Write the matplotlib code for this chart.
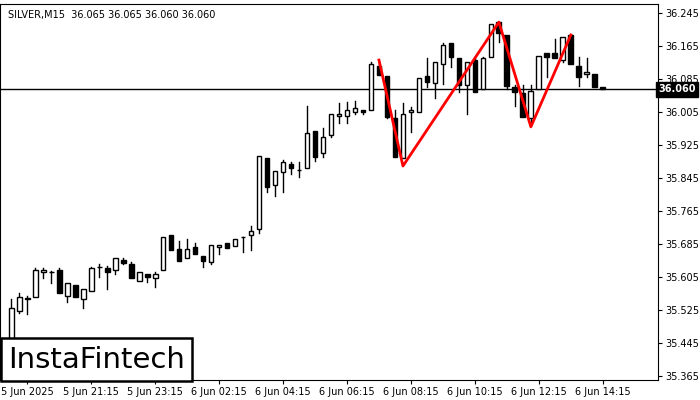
import matplotlib
matplotlib.use("Agg")
import matplotlib.pyplot as plt
from matplotlib.patches import Rectangle

opens  = [35.440,35.523,35.552,35.557,35.617,35.617,35.622,35.559,35.586,35.552,35.571,35.629,35.627,35.622,35.646,35.637,35.595,35.612,35.603,35.622,
          35.707,35.673,35.651,35.678,35.656,35.641,35.678,35.687,35.680,35.702,35.707,35.721,35.893,35.828,35.860,35.879,35.864,35.869,35.959,35.906,
          35.949,35.995,35.995,36.005,36.010,36.010,36.116,36.092,35.990,35.893,36.005,36.005,36.092,36.075,36.121,36.172,36.136,36.070,36.131,36.061,
          36.138,36.223,36.192,36.066,36.051,35.990,36.061,36.148,36.148,36.131,36.192,36.116,36.097,36.097,36.066]
highs  = [35.552,35.566,35.559,35.627,35.627,35.619,35.627,35.591,35.586,35.576,35.629,35.637,35.632,35.651,35.651,35.641,35.617,35.612,35.617,35.702,
          35.707,35.692,35.697,35.687,35.656,35.683,35.683,35.687,35.697,35.702,35.729,35.898,35.893,35.862,35.889,35.884,35.884,36.020,35.959,35.966,
          36.000,36.027,36.029,36.032,36.010,36.126,36.126,36.092,36.010,36.027,36.017,36.087,36.136,36.126,36.172,36.172,36.136,36.126,36.138,36.138,
          36.218,36.223,36.192,36.070,36.070,36.070,36.141,36.148,36.182,36.187,36.192,36.138,36.136,36.097,36.066]
lows   = [35.428,35.518,35.515,35.557,35.603,35.591,35.566,35.544,35.557,35.530,35.571,35.605,35.576,35.612,35.637,35.603,35.595,35.593,35.581,35.622,
          35.670,35.644,35.651,35.661,35.629,35.637,35.661,35.675,35.680,35.666,35.670,35.712,35.811,35.801,35.811,35.855,35.847,35.869,35.886,35.896,
          35.944,35.978,35.978,36.000,36.000,36.010,36.095,35.990,35.896,35.893,35.957,36.005,36.066,36.039,36.073,36.114,36.053,36.000,36.053,36.061,
          36.138,36.175,36.061,36.020,35.993,35.981,36.061,36.090,36.136,36.126,36.121,36.068,36.090,36.066,36.060]
closes = [35.530,35.557,35.554,35.622,35.622,35.617,35.566,35.591,35.557,35.576,35.627,35.629,35.617,35.651,35.639,35.603,35.617,35.605,35.612,35.702,
          35.670,35.644,35.673,35.661,35.644,35.683,35.683,35.675,35.697,35.702,35.717,35.898,35.823,35.862,35.884,35.869,35.864,35.954,35.896,35.944,
          36.000,36.000,36.010,36.015,36.005,36.121,36.095,35.993,35.896,36.000,36.010,36.087,36.078,36.126,36.167,36.138,36.070,36.126,36.053,36.136,
          36.218,36.196,36.068,36.053,35.993,36.056,36.141,36.138,36.136,36.187,36.121,36.090,36.102,36.066,36.060]

pattern_idx = [46, 49, 61, 65, 70]
pattern_px  = [36.131, 35.874, 36.223, 35.969, 36.192]

yticks = [36.245,36.165,36.085,36.005,35.925,35.845,35.765,35.685,35.605,35.525,35.445,35.365]
xtick_idx = [2,10,18,26,34,42,50,58,66,74]
xtick_lbl = ["5 Jun 2025","5 Jun 21:15","5 Jun 23:15","6 Jun 02:15","6 Jun 04:15",
             "6 Jun 06:15","6 Jun 08:15","6 Jun 10:15","6 Jun 12:15","6 Jun 14:15"]
last_price = 36.060
title = "SILVER,M15  36.065 36.065 36.060 36.060"

fig = plt.figure(figsize=(7,4), dpi=100)
ax = fig.add_axes([0.0, 0.05, 658/700, 0.94])
w = 0.6
for i,(o,h,l,c) in enumerate(zip(opens,highs,lows,closes)):
    top, bot = max(o,c), min(o,c)
    ax.plot([i,i],[top,h], color='black', lw=1, zorder=2)
    ax.plot([i,i],[l,bot], color='black', lw=1, zorder=2)
    fc = 'white' if c >= o else 'black'
    ax.add_patch(Rectangle((i-w/2, bot), w, max(top-bot, 0.0008), facecolor=fc,
                           edgecolor='black', lw=1, zorder=3))
ax.axhline(last_price, color='black', lw=1, zorder=1)
ax.plot(pattern_idx, pattern_px, color='red', lw=2, zorder=4)

ax.set_xlim(-1.4, 80.9)
ax.set_ylim(35.355, 36.267)
ax.yaxis.tick_right()
ax.set_yticks(yticks)
ax.set_yticklabels([f"{v:.3f}" for v in yticks], fontsize=7)
ax.set_xticks(xtick_idx)
ax.set_xticklabels(xtick_lbl, fontsize=7)
ax.tick_params(length=3, width=0.8, pad=2)
for s in ax.spines.values():
    s.set_linewidth(0.8)
ax.text(0.012, 0.985, title, transform=ax.transAxes, fontsize=7, va='top', ha='left')
ax.text(1.0, last_price, f"{last_price:.3f}", transform=ax.get_yaxis_transform(), fontsize=7,
        color='white', va='center', ha='left', fontweight='bold',
        bbox=dict(boxstyle='square,pad=0.25', fc='black', ec='black'))
ax.text(0.012, 0.017, "InstaFintech", transform=ax.transAxes, fontsize=21, va='bottom', ha='left',
        bbox=dict(boxstyle='square,pad=0.25', fc='white', ec='black', lw=1.8), zorder=6)
fig.savefig("out.png", dpi=100)
